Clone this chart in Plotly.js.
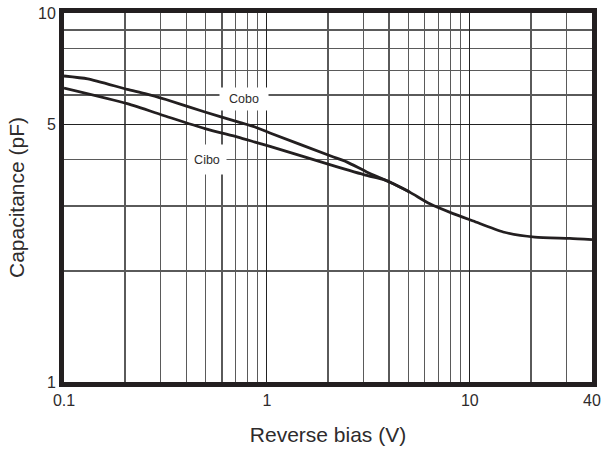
<!DOCTYPE html>
<html>
<head>
<meta charset="utf-8">
<script src="https://cdn.plot.ly/plotly-3.0.1.min.js"></script>
<style>html,body{margin:0;padding:0;background:#fff;}#chart{width:604px;height:455px;}</style>
</head>
<body>
<div id="chart"></div>
<script>
// Reverse bias (V) and capacitance (pF)
const coboBias = [0.1, 0.131, 0.205, 0.251, 0.318, 0.495, 0.719, 0.873, 1.035, 2.08, 2.47, 3.10, 4.12, 5.06, 6.35, 8.27, 10.4, 14.6, 20.9, 31.1, 40];
const coboCap  = [6.75, 6.63, 6.21, 6.05, 5.83, 5.39, 5.07, 4.91, 4.73, 4.09, 3.95, 3.71, 3.46, 3.27, 3.04, 2.86, 2.73, 2.55, 2.47, 2.45, 2.43];
const ciboBias = [0.1, 0.205, 0.318, 0.495, 0.719, 0.873, 1.035, 2.08, 3.10, 3.74, 4.12, 5.06];
const ciboCap  = [6.26, 5.68, 5.25, 4.86, 4.61, 4.47, 4.35, 3.87, 3.63, 3.54, 3.46, 3.27];

const xTickVals = [0.1, 1, 10, 40];
const xTickText = ["0.1", "1", "10", "40"];
const xMinorVals = [0.2, 0.3, 0.4, 0.5, 0.6, 0.7, 0.8, 0.9, 2, 3, 4, 5, 6, 7, 8, 9, 20, 30];
const yTickVals = [1, 5, 10];
const yTickText = ["1", "5", "10"];
const yMinorVals = [2, 3, 4, 6, 7, 8, 9];

const labelNames = ["Cobo", "Cibo"];
const labelBias = [0.77, 0.504];
const labelCap = [5.83, 4.01];

const ink = "#231f20";
const textInk = "#2e2b2c";
const font = "Liberation Sans, Arial, sans-serif";

const traces = [
  {x: coboBias, y: coboCap, mode: "lines", line: {color: ink, width: 2.8, shape: "spline", smoothing: 0.6}, name: "Cobo", hoverinfo: "skip"},
  {x: ciboBias, y: ciboCap, mode: "lines", line: {color: ink, width: 2.8, shape: "spline", smoothing: 0.6}, name: "Cibo", hoverinfo: "skip"}
];

const boxSizes = [[48, 22], [38, 29]];
const annotations = labelNames.map((t, i) => ({
  x: Math.log10(labelBias[i]), y: Math.log10(labelCap[i]), xref: "x", yref: "y",
  text: t, showarrow: false, bgcolor: "#ffffff", borderpad: 0,
  width: boxSizes[i][0], height: boxSizes[i][1],
  font: {family: font, size: 12.5, color: textInk}
}));

const layout = {
  width: 604, height: 455,
  margin: {l: 64, r: 12, t: 13, b: 73},
  paper_bgcolor: "#ffffff", plot_bgcolor: "#ffffff",
  showlegend: false,
  xaxis: {
    type: "log", range: [Math.log10(0.1), Math.log10(40)],
    tickmode: "array", tickvals: xTickVals, ticktext: xTickText,
    showgrid: true, gridcolor: "#222222", gridwidth: 1,
    minor: {tickmode: "array", tickvals: xMinorVals, showgrid: true, gridcolor: "#5a5a5a", gridwidth: 1.3, ticks: ""},
    showline: true, linecolor: ink, linewidth: 5, mirror: true,
    ticks: "", zeroline: false,
    tickfont: {family: font, size: 16, color: textInk},
    title: {text: "Reverse bias (V)", font: {family: font, size: 21, color: textInk}, standoff: 21}
  },
  yaxis: {
    type: "log", range: [0, 1],
    tickmode: "array", tickvals: yTickVals, ticktext: yTickText,
    showgrid: true, gridcolor: "#222222", gridwidth: 1,
    minor: {tickmode: "array", tickvals: yMinorVals, showgrid: true, gridcolor: "#5a5a5a", gridwidth: 1.3, ticks: ""},
    showline: true, linecolor: ink, linewidth: 5, mirror: true,
    ticks: "", zeroline: false,
    tickfont: {family: font, size: 16, color: textInk},
    title: {text: "Capacitance (pF)", font: {family: font, size: 21, color: textInk}, standoff: 9}
  },
  annotations: annotations
};

Plotly.newPlot("chart", traces, layout, {staticPlot: true, displayModeBar: false});
</script>
</body>
</html>
